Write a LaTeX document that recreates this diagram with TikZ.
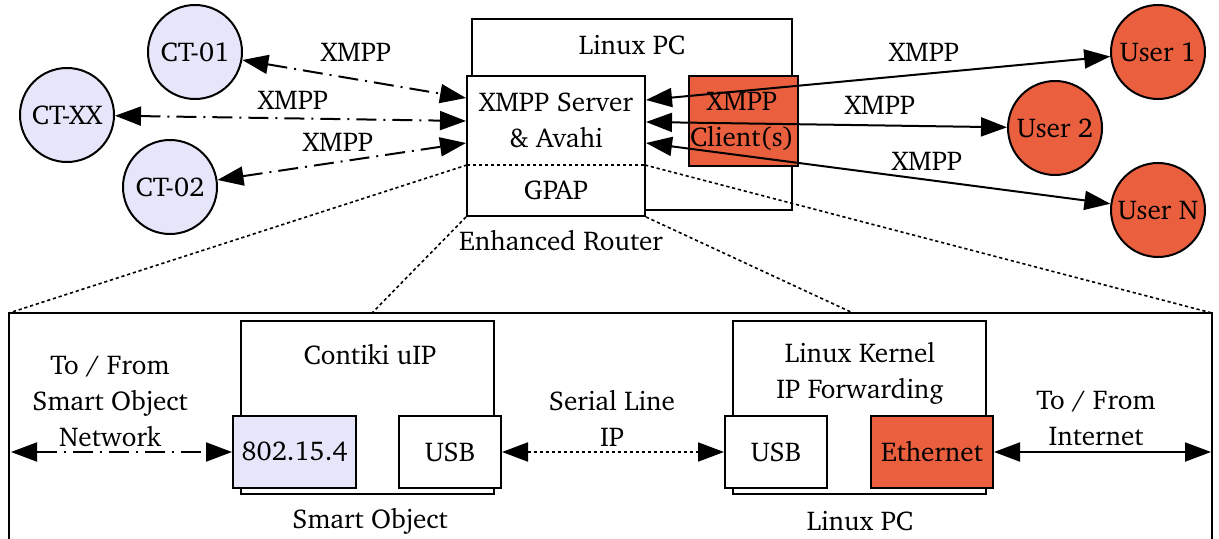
\documentclass[tikz,border=0pt]{standalone}
\usepackage[T1]{fontenc}
\usepackage{charter}
\usetikzlibrary{arrows.meta}
\definecolor{lav}{RGB}{230,230,250}
\definecolor{tom}{RGB}{234,96,62}
\tikzset{
  txt/.style={font=\fontsize{13.6}{18}\selectfont, align=center, inner sep=0pt},
  peer/.style={circle, draw, line width=1pt, minimum size=47pt, inner sep=0pt,
               font=\fontsize{13.6}{18}\selectfont, fill=lav},
  user/.style={peer, fill=tom},
  box/.style={draw, line width=1pt, inner sep=0pt, fill=white},
  link/.style={line width=1pt,
               {Triangle[length=13pt,width=9.5pt]}-{Triangle[length=13pt,width=9.5pt]}},
  dashdot/.style={dash pattern=on 10pt off 3.5pt on 1pt off 3.5pt},
  dots/.style={dash pattern=on 1.6pt off 1.4pt},
  zoomline/.style={line width=0.8pt, dash pattern=on 1.6pt off 1.4pt},
}
\begin{document}
\begin{tikzpicture}[x=0.5pt,y=-0.5pt]
\useasboundingbox (0,0) rectangle (1219,539);
\fill[white] (0,0) rectangle (1219,539);

% ---------------- enhanced router ----------------
\node[box, minimum width=160pt, minimum height=95.5pt] (pc) at (632,114.5) {};
\node[txt] (pclbl) at (632,45) {Linux PC};
\node[box, fill=tom, minimum width=54.5pt, minimum height=45pt] (cli) at (743.5,121) {};
\node[txt] (clilbl) at (742,121) {XMPP\\Client(s)};
\node[box, minimum width=89pt, minimum height=70pt] (srv) at (556,146) {};
\node[txt] (srvlbl) at (556,120) {XMPP Server\\\& Avahi};
\node[txt] (gpap) at (556,190) {GPAP};
\node[txt] (erlbl) at (561,241) {Enhanced Router};
\coordinate (dl) at (467,165);
\coordinate (dr) at (645,165);
\draw[zoomline] (dl) -- (dr);

% ---------------- peers ----------------
\node[peer] (ct01) at (195,52) {CT-01};
\node[peer] (ctxx) at (67,115) {CT-XX};
\node[peer] (ct02) at (170,187) {CT-02};
\node[user] (u1) at (1158,52) {User 1};
\node[user] (u2) at (1055,128) {User 2};
\node[user] (un) at (1158,210) {User N};

\draw[link, dashdot] (ct01) -- ([yshift=24pt]srv.west);
\draw[link, dashdot] (ctxx) -- ([yshift=12.5pt]srv.west);
\draw[link, dashdot] (ct02) -- ([yshift=1.5pt]srv.west);
\node[txt] (l1) at (356,52) {XMPP};
\node[txt] (l2) at (293,100) {XMPP};
\node[txt] (l3) at (338,142) {XMPP};

\draw[link] ([yshift=23pt]srv.east) -- (u1);
\draw[link] ([yshift=12pt]srv.east) -- (u2);
\draw[link] ([yshift=1.5pt]srv.east) -- (un);
\node[txt] (r1) at (924,52) {XMPP};
\node[txt] (r2) at (880,105) {XMPP};
\node[txt] (r3) at (927,161) {XMPP};

% ---------------- detail frame ----------------
\coordinate (ftl) at (9,313);
\coordinate (ftr) at (1212,313);
\coordinate (fso) at (372,313);
\coordinate (fpc) at (853,313);
\draw[line width=1pt] (9,560) -- (ftl) -- (ftr) -- (1212,560);
\draw[zoomline] (dl) -- (ftl);
\draw[zoomline] (srv.south west) -- (fso);
\draw[zoomline] (srv.south east) -- (fpc);
\draw[zoomline] (dr) -- (ftr);

% smart object
\node[box, minimum width=126.5pt, minimum height=86.5pt] (cont) at (367.5,407.5) {};
\node[txt] (contlbl) at (370,355) {Contiki uIP};
\node[box, fill=lav, minimum width=61.5pt, minimum height=36pt] (wpan) at (294.5,452) {};
\node[box, minimum width=51pt, minimum height=36pt] (usba) at (450,452) {};
\node[txt] at (wpan) {802.15.4};
\node[txt] at (usba) {USB};
\node[txt] (solbl) at (370,521) {Smart Object};

% linux pc
\node[box, minimum width=126.5pt, minimum height=86.5pt] (kern) at (859.5,407.5) {};
\node[txt] (kernlbl) at (860,373) {Linux Kernel\\IP Forwarding};
\node[box, minimum width=51pt, minimum height=36pt] (usbb) at (776,452) {};
\node[box, fill=tom, minimum width=61pt, minimum height=36pt] (eth) at (932,452) {};
\node[txt] at (usbb) {USB};
\node[txt] at (eth) {Ethernet};
\node[txt] (pclbl2) at (860,521) {Linux PC};

% links
\coordinate (netl) at (11,452);
\coordinate (netr) at (1211,452);
\node[txt] (sonet) at (110,401) {To / From\\Smart Object\\Network};
\node[txt] (sline) at (612,418) {Serial Line\\IP};
\node[txt] (inet) at (1096,418) {To / From\\Internet};
\draw[link, dashdot] (netl) -- (wpan);
\draw[link, dots] (usba) -- (usbb);
\draw[link] (eth) -- (netr);
\end{tikzpicture}
\end{document}
